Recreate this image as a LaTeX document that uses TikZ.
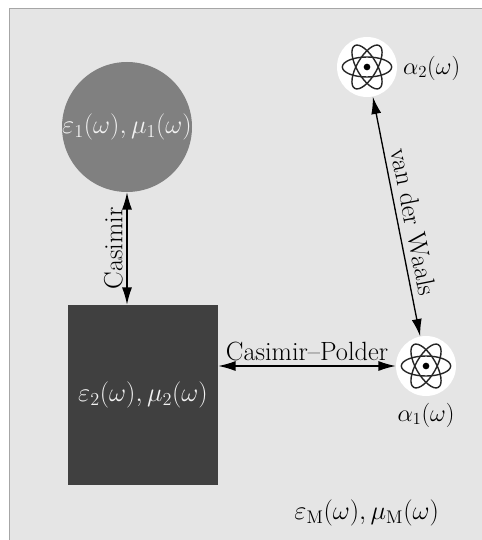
\documentclass[tikz,border=0pt]{standalone}
\usepackage{amsmath}
\usetikzlibrary{arrows.meta}
\tikzset{
	label text/.style={font=\fontsize{22.5}{27}\selectfont},
	math text/.style={font=\fontsize{22.5}{27}\selectfont, scale=1.083},
	link/.style={line width=0.4mm, {Latex[length=5.2mm,width=3mm]}-{Latex[length=5.2mm,width=3mm]}},
	atom disc/.style={circle, fill=white, inner sep=0pt, minimum size=1.8cm},
	atom orbit/.style={line width=0.42mm, color=black!85},
}
\newcommand{\atomicon}[1]{
	\foreach \ang in {0, 60, 120} {
		\draw[atom orbit, rotate around={\ang:(#1)}] (#1) ellipse (0.74 and 0.3);
	}
	\fill[black] (#1) circle (0.1);
}
\begin{document}
\begin{tikzpicture}
			%%%%% START %%%%%
			\useasboundingbox (0, 0) rectangle (14.43, -16.2);
			
			\draw[line width=0.4mm, color=black!35, fill=black!10] (0.29, -0.26) rectangle (15, -17);
			
			\node[circle, fill=black!50, inner sep=0pt, minimum size=3.9cm] (sphere) at (3.81, -3.81) {};
			\node[fill=black!75, inner sep=0pt, minimum width=4.5cm, minimum height=5.4cm] (block) at (4.29, -11.85) {};
			
			\node[atom disc] (atomb) at (11.01, -2.01) {};
			\atomicon{atomb}
			\node[atom disc] (atoma) at (12.78, -10.98) {};
			\atomicon{atoma}
			
			\node[math text, color=white!95!black] (sphere label) at (sphere) {$\varepsilon_1(\omega), \mu_1(\omega)$};
			\node[math text, color=white!95!black] (block label) at (block) {$\varepsilon_2(\omega), \mu_2(\omega)$};
			\node[label text] (atomb label) at (12.95, -2.04) {$\alpha_2(\omega)$};
			\node[label text] (atoma label) at (12.78, -12.45) {$\alpha_1(\omega)$};
			\node[math text] (medium label) at (11, -15.39) {$\varepsilon_{\mathrm{M}}(\omega), \mu_{\mathrm{M}}(\omega)$};
			
			\draw[link] (sphere.south) -- node[label text, midway, rotate=90, above, inner sep=3pt] (casimir label) {Casimir} (sphere.south |- block.north);
			\draw[link] (block.east |- atoma.west) -- node[label text, midway, above, inner sep=4pt] (polder label) {Casimir--Polder} (atoma.west);
			\draw[link] (atomb) -- node[label text, pos=0.535, sloped, above, inner sep=5pt] (waals label) {van der Waals} (atoma);
			%%%%% END %%%%%
		\end{tikzpicture}
\end{document}
